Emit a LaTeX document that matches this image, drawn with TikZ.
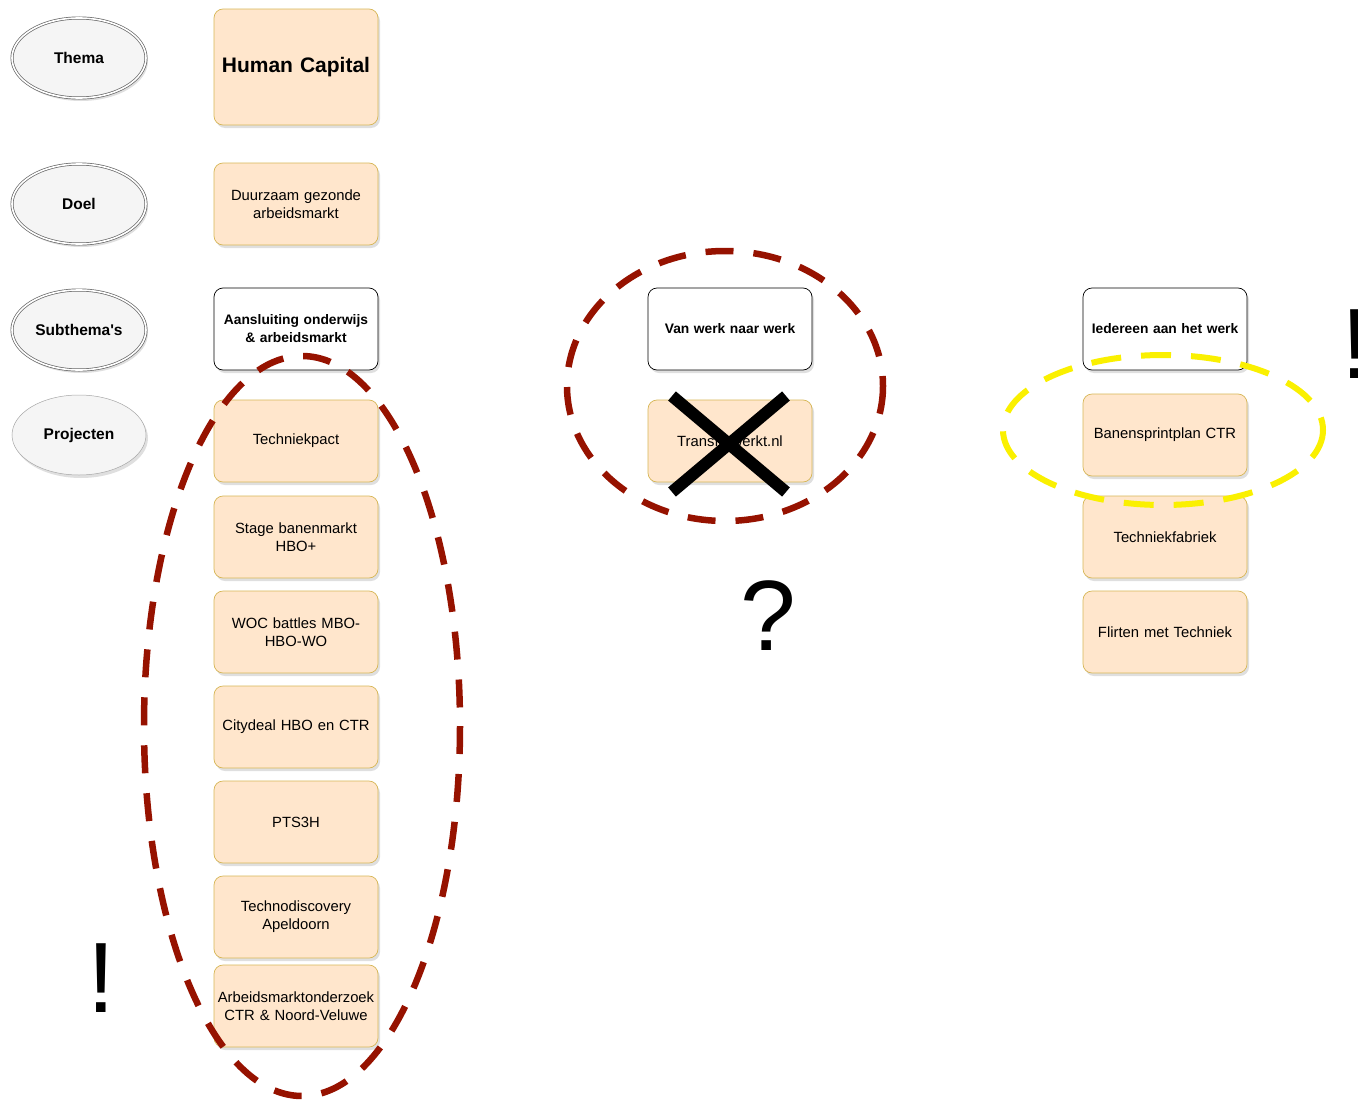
\documentclass[tikz,border=0pt]{standalone}
\usepackage{fontspec}
\setmainfont{Liberation Sans}
\usetikzlibrary{shapes.geometric,shadows}
\definecolor{peach}{RGB}{255,230,204}
\definecolor{gold}{RGB}{214,182,86}
\definecolor{darkred}{RGB}{150,18,0}
\definecolor{brightyellow}{RGB}{250,240,0}

\begin{document}
\begin{tikzpicture}[x=1pt,y=-1pt]
            \tikzstyle{lvl}=[ellipse, draw=black!60, line width=0.7pt, double=white, double distance=1.6pt, fill=black!4, minimum width=134pt, minimum height=80pt, drop shadow={shadow xshift=2pt, shadow yshift=-3pt, opacity=0.25}, font=\fontsize{15.5}{18}\selectfont\bfseries]
            \tikzstyle{proj}=[rectangle, rounded corners=9pt, draw=gold, line width=0.7pt, fill=peach, minimum width=164pt, minimum height=82pt, text width=162pt, inner sep=1pt, align=center, drop shadow={shadow xshift=2pt, shadow yshift=-3pt, opacity=0.25}, font=\fontsize{14.8}{18}\selectfont]
            \tikzstyle{sub}=[proj, draw=black, fill=white, font=\fontsize{13.8}{18}\selectfont\bfseries]
            \tikzstyle{big}=[font=\fontsize{100}{100}\selectfont, inner sep=0pt]

            \useasboundingbox (0,0) rectangle (1358,1100);

            \node[lvl] (thema) at (79,58) {Thema};
            \node[lvl] (doel) at (79,204) {Doel};
            \node[lvl] (subth) at (79,330) {Subthema\textquotesingle s};
            \node[lvl, double=none, line width=0.5pt, draw=black!35] (proj) at (79,435) {Projecten};

            \node[proj, minimum height=116pt, font=\fontsize{21}{24}\selectfont\bfseries] (hc) at (296,67) {Human Capital};
            \node[proj] (dgz) at (296,204) {Duurzaam gezonde\\arbeidsmarkt};
            \node[sub] (aow) at (296,329) {Aansluiting onderwijs\\\& arbeidsmarkt};
            \node[proj] (tp) at (296,441) {Techniekpact};
            \node[proj] (sbm) at (296,537) {Stage banenmarkt\\HBO+};
            \node[proj] (woc) at (296,632) {WOC battles MBO-\\HBO-WO};
            \node[proj] (cd) at (296,727) {Citydeal HBO en CTR};
            \node[proj] (pts) at (296,822) {PTS3H};
            \node[proj] (td) at (296,917) {Technodiscovery\\Apeldoorn};
            \node[proj] (amo) at (296,1006) {Arbeidsmarktonderzoek\\CTR \& Noord-Veluwe};

            \node[sub] (vwnw) at (730,329) {Van werk naar werk};
            \node[proj] (tw) at (730,441) {Transferwerkt.nl};

            \node[sub] (iahw) at (1165,329) {Iedereen aan het werk};
            \node[proj] (bsp) at (1165,435) {Banensprintplan CTR};
            \node[proj] (tf) at (1165,537) {Techniekfabriek};
            \node[proj] (fmt) at (1165,632) {Flirten met Techniek};

            % markeringen
            \draw[darkred, line width=6.5pt, dash pattern=on 28pt off 20pt] (302,726) ellipse [x radius=158, y radius=370];
            \draw[darkred, line width=6.5pt, dash pattern=on 28pt off 20pt] (725,386) ellipse [x radius=158, y radius=135];
            \draw[brightyellow, line width=6pt, dash pattern=on 30pt off 20pt] (1163,430) ellipse [x radius=160, y radius=75];

            \coordinate (xa) at (672,396);
            \coordinate (xb) at (786,492);
            \coordinate (xc) at (672,492);
            \coordinate (xd) at (786,396);
            \draw[line width=12pt] (xa) -- (xb) (xc) -- (xd);

            \node[big] (vraag) at (768,616) {?};
            \node[big] (uitr1) at (101,978) {!};
            \node[big] (uitr2) at (1355,344) {!};
        \end{tikzpicture}
\end{document}
